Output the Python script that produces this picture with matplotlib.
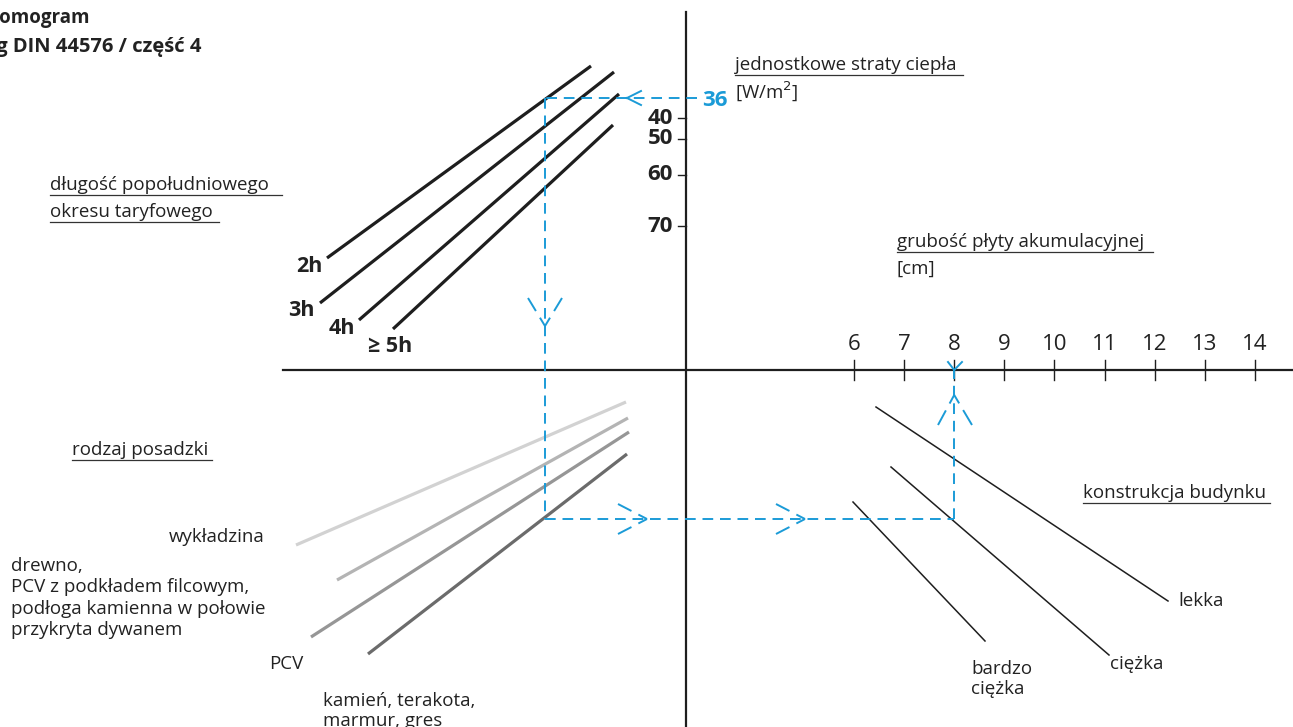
import matplotlib.pyplot as plt

plt.rcParams['font.family'] = ['Open Sans', 'DejaVu Sans']

# --- nomogram scales ---
heat_loss_ticks = [40, 50, 60, 70]
heat_loss_pos = [118, 139, 175, 226]          # y of each tick on the vertical scale
heat_loss_value = 36
heat_loss_value_pos = 98

thickness_ticks = [6, 7, 8, 9, 10, 11, 12, 13, 14]
thickness_value = 8

# tariff period lines (x0, y0, x1, y1)
tariff_labels = ['2h', '3h', '4h', '≥ 5h']
tariff_lines = [(327, 258, 591, 66), (320, 303, 614, 72),
                (359, 320, 619, 94), (393, 329, 613, 125)]
tariff_label_xy = [(309, 267), (301, 311), (342, 328), (390, 346)]

# floor type lines
floor_lines = [(296, 545, 626, 402), (337, 580, 628, 418),
               (311, 637, 629, 432), (368, 654, 627, 454)]
floor_colors = ['#d2d2d2', '#b4b4b4', '#969696', '#6b6b6b']

# building construction lines
building_labels = ['lekka', 'ciężka', 'bardzo\nciężka']
building_lines = [(876, 407, 1168, 601), (891, 467, 1109, 655), (853, 502, 985, 641)]

BLUE = '#1b9bd7'
INK = '#1e1e1e'


def thick_x(v):
    return 854 + (v - 6) * 50.1


fig = plt.figure(figsize=(12.93, 7.27), dpi=100)
ax = fig.add_axes([0, 0, 1, 1])
ax.set_xlim(0, 1293)
ax.set_ylim(727, 0)
ax.axis('off')

# axes cross
ax.plot([686, 686], [12, 727], color=INK, lw=1.6)
ax.plot([283, 1293], [370, 370], color=INK, lw=1.6)

# vertical scale
for v, y in zip(heat_loss_ticks, heat_loss_pos):
    ax.plot([678, 686], [y, y], color=INK, lw=1.0)
    ax.text(673, y, str(v), ha='right', va='center', fontsize=16,
            fontweight='bold', color='#222222')
ax.text(702, heat_loss_value_pos + 2, str(heat_loss_value), ha='left', va='center',
        fontsize=16, fontweight='bold', color=BLUE)

# horizontal scale
for v in thickness_ticks:
    x = thick_x(v)
    ax.plot([x, x], [360, 380], color=INK, lw=1.0)
    ax.text(x, 344, str(v), ha='center', va='center', fontsize=16, color='#222222')

# tariff lines
for (x0, y0, x1, y1), lab, (lx, ly) in zip(tariff_lines, tariff_labels, tariff_label_xy):
    ax.plot([x0, x1], [y0, y1], color=INK, lw=2.3, solid_capstyle='butt')
    ax.text(lx, ly, lab, ha='center', va='center', fontsize=15.5,
            fontweight='bold', color='#222222')

# floor lines
for (x0, y0, x1, y1), c in zip(floor_lines, floor_colors):
    ax.plot([x0, x1], [y0, y1], color=c, lw=2.3, solid_capstyle='butt')

# building lines
for (x0, y0, x1, y1) in building_lines:
    ax.plot([x0, x1], [y0, y1], color=INK, lw=1.1)

# reading path (blue dashed)
dash = (0, (5.5, 3.5))
xv = 545
yv = 519
xt = thick_x(thickness_value)
ax.plot([697, xv], [heat_loss_value_pos] * 2, color=BLUE, lw=1.4, linestyle=dash)
ax.plot([xv, xv], [heat_loss_value_pos, yv], color=BLUE, lw=1.4, linestyle=dash)
ax.plot([xv, xt], [yv, yv], color=BLUE, lw=1.4, linestyle=dash)
ax.plot([xt, xt], [yv, 370], color=BLUE, lw=1.4, linestyle=dash)


def arrow_head(tip, arms, ls):
    for a in arms:
        ax.plot([tip[0], a[0]], [tip[1], a[1]], color=BLUE, lw=1.4, linestyle=ls)


head_dash = (0, (5, 4, 9, 4))
arrow_head((627, 98), [(641, 91), (641, 105)], '-')
arrow_head((xv, 326), [(528, 298), (562, 298)], head_dash)
arrow_head((647, yv), [(618, 504), (618, 534)], head_dash)
arrow_head((805, yv), [(776, 504), (776, 534)], head_dash)
arrow_head((xt, 395), [(938, 425), (972, 425)], head_dash)
arrow_head((xt, 370), [(948, 362), (962, 362)], '-')

# texts
txt = dict(fontsize=13.5, color='#222222')
ax.text(-16, 18, 'Nomogram', ha='left', va='center', fontsize=13.5,
        fontweight='bold', color='#222222')
ax.text(-21, 47, 'wg DIN 44576 / część 4', ha='left', va='center', fontsize=14.5,
        fontweight='bold', color='#222222')


def underlined(x, y, s, width):
    ax.text(x, y, s, ha='left', va='center', **txt)
    ax.plot([x, x + width], [y + 10, y + 10], color='#333333', lw=0.9)


underlined(735, 65, 'jednostkowe straty ciepła', 228)
ax.text(735, 91, '[W/m$^2$]', ha='left', va='center', **txt)
underlined(50, 185, 'długość popołudniowego', 232)
underlined(50, 212, 'okresu taryfowego', 169)
underlined(897, 242, 'grubość płyty akumulacyjnej', 256)
ax.text(897, 269, '[cm]', ha='left', va='center', **txt)
underlined(72, 450, 'rodzaj posadzki', 140)
underlined(1083, 493, 'konstrukcja budynku', 187)

ax.text(265, 537, 'wykładzina', ha='right', va='center', **txt)
ax.text(11, 598, 'drewno,\nPCV z podkładem filcowym,\npodłoga kamienna w połowie\nprzykryta dywanem',
        ha='left', va='center', linespacing=1.25, **txt)
ax.text(303, 664, 'PCV', ha='right', va='center', **txt)
ax.text(323, 711, 'kamień, terakota,\nmarmur, gres', ha='left', va='center',
        linespacing=1.2, **txt)
ax.text(1178, 601, building_labels[0], ha='left', va='center', **txt)
ax.text(1110, 664, building_labels[1], ha='left', va='center', **txt)
ax.text(971, 679, building_labels[2], ha='left', va='center', linespacing=1.2, **txt)

fig.savefig('out.png', dpi=100)
